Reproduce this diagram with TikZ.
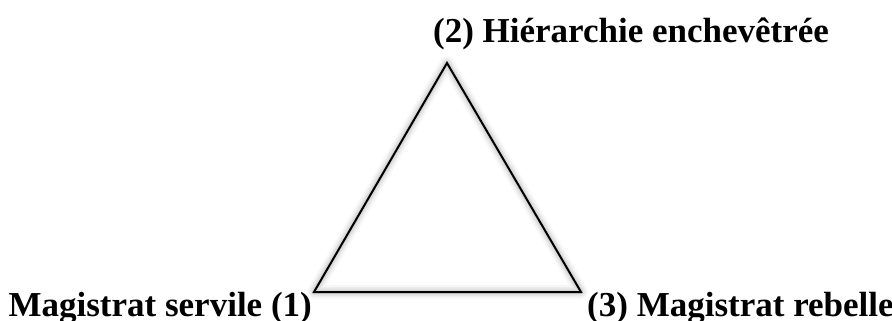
\documentclass[tikz,border=0pt]{standalone}
\usepackage{fontspec}
\setmainfont{Liberation Serif}
\tikzset{
  lbl/.style={font=\fontsize{35}{40}\selectfont\bfseries, inner sep=0pt},
  tri/.style={draw=black, line width=2pt, line join=miter},
  shade/.style={draw=black, line join=round}
}
\begin{document}
\begin{tikzpicture}[x=1pt,y=-1pt]
\useasboundingbox (0,0) rectangle (892,321);
\coordinate (t) at (447,63);
\coordinate (bl) at (314,292);
\coordinate (br) at (581,292);
% soft shadow
\foreach \w/\o in {14/0.03,10/0.04,7/0.05,4/0.06}{
  \draw[shade, line width=\w pt, opacity=\o, shift={(4,5)}] (t) -- (bl) -- (br) -- cycle;
}
\draw[tri] (t) -- (bl) -- (br) -- cycle;
\node[lbl, anchor=base] (top) at (631,43) {(2) Hiérarchie enchevêtrée};
\node[lbl, anchor=base east] (left) at (312,316) {Magistrat servile (1)};
\node[lbl, anchor=base west] (right) at (587,316) {(3) Magistrat rebelle};
\end{tikzpicture}
\end{document}
